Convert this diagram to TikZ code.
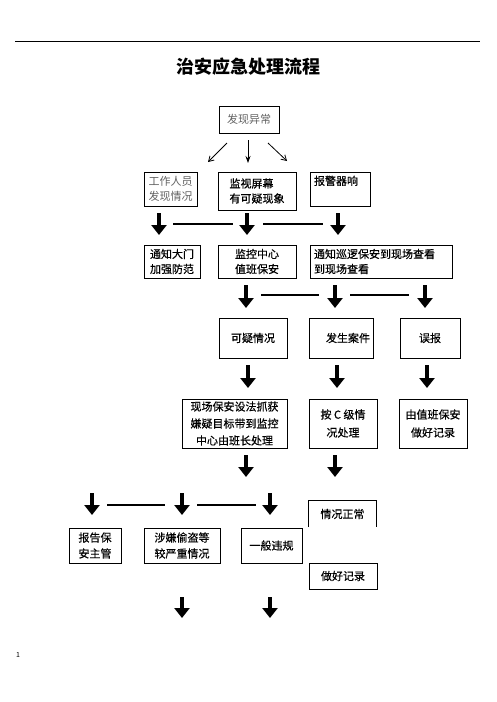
\documentclass[tikz,border=0pt]{standalone}
\usepackage{fontspec}
\setmainfont{Noto Sans CJK SC}
\newfontfamily\heiti{Noto Sans CJK SC}[RawFeature={embolden=0.5}]
\usetikzlibrary{arrows.meta}

\begin{document}
\begin{tikzpicture}[
		x=1pt, y=-1pt,
		every node/.style={inner sep=0pt, font=\heiti\fontsize{11}{15}\selectfont},
		box/.style={draw, line width=0.9pt},
		grey/.style={text=black!62, font=\rmfamily\fontsize{11}{15}\selectfont},
		heavy/.style={line width=3.6pt, -{Triangle[width=15pt, length=10pt]}},
		slim/.style={line width=0.8pt, -{Straight Barb[length=5pt, width=6pt]}},
		bar/.style={line width=1.3pt}
	]
  \useasboundingbox (0,0) rectangle (496,702);
  \coordinate (rule_l) at (15,41);
  \coordinate (rule_r) at (480,41);
  \draw [line width=0.8pt] (rule_l) -- (rule_r);
  \node (title) [font=\rmfamily\fontsize{18}{20}\bfseries] at (248,67) {治安应急处理流程};

  \node (detect) [box, grey, minimum width=60pt, minimum height=27pt] at (249,119.5) {发现异常};
  \node (staff) [box, grey, align=center, minimum width=53pt, minimum height=34pt] at (170.5,189) {工作人员\\发现情况};
  \node (screen) [box, align=left, minimum width=78pt, minimum height=38pt] at (257,191) {监视屏幕\\有可疑现象};
  \node (alarm) [box, text width=52pt, text height=9pt, text depth=17pt, minimum width=60pt, minimum height=34pt] at (340,189) {报警器响};

  \node (gate) [box, align=left, minimum width=56pt, minimum height=33pt] at (172,261.5) {通知大门\\加强防范};
  \node (monitor) [box, align=center, minimum width=78pt, minimum height=33pt] at (257,261.5) {监控中心\\值班保安};
  \node (patrol) [box, align=left, text width=134pt, minimum width=142pt, minimum height=33pt] at (381,261.5) {通知巡逻保安到现场查看\\到现场查看};

  \node (suspect) [box, minimum width=68pt, minimum height=40pt] at (253,338) {可疑情况};
  \node (case) [box, minimum width=64pt, minimum height=40pt] at (341,338) {\hspace{14pt}发生案件};
  \node (false_alarm) [box, minimum width=60pt, minimum height=40pt] at (430,338) {误报};

  \node (catch) [box, align=center, font=\heiti\fontsize{11}{17}\selectfont, minimum width=105pt, minimum height=49pt] at (234.5,423.5) {现场保安设法抓获\\嫌疑目标带到监控\\中心由班长处理};
  \node (level_c) [box, align=left, font=\heiti\fontsize{11}{18}\selectfont, minimum width=68pt, minimum height=49pt] at (343,423.5) {按 C 级情\\\hspace{6pt}况处理};
  \node (duty_log) [box, align=center, font=\heiti\fontsize{11}{18}\selectfont, minimum width=68pt, minimum height=49pt] at (433,423.5) {由值班保安\\做好记录};

  \node (normal) [minimum width=67pt, minimum height=26pt] at (342.5,514) {情况正常};
  \draw [box] (normal.south west) -- (normal.north west) -- (normal.north east) -- (normal.south east);
  \node (report) [box, align=center, font=\heiti\fontsize{11}{16}\selectfont, minimum width=52pt, minimum height=35pt] at (95,545.5) {报告保\\安主管};
  \node (theft) [box, align=left, font=\heiti\fontsize{11}{16}\selectfont, minimum width=76pt, minimum height=35pt] at (182,545.5) {涉嫌偷盗等\\较严重情况};
  \node (minor) [box, minimum width=61pt, minimum height=35pt] at (271.5,545.5) {一般违规};
  \node (log) [box, minimum width=68pt, minimum height=26pt] at (343,576) {做好记录};

  \node (page_no) [font=\rmfamily\fontsize{7}{8}\selectfont] at (18,655) {1};

  % small arrows under the first box
  \coordinate (d1_s) at (227,143); \coordinate (d1_e) at (208,162);
  \coordinate (d2_s) at (248,140); \coordinate (d2_e) at (248,163);
  \coordinate (d3_s) at (268,143); \coordinate (d3_e) at (287,161);
  \draw [slim] (d1_s) -- (d1_e);
  \draw [line width=0.8pt, -{Stealth[length=7pt, width=5pt]}] (d2_s) -- (d2_e);
  \draw [slim] (d3_s) -- (d3_e);

  % heavy arrows
  \foreach \n/\x/\ya/\yb in {a1/159/213/235, a2/247/213/235, a3/338/213/235,
      b1/246/285/308, b2/335/285/308, b3/425/285/308,
      c1/248/365/388, c2/337/365/388, c3/427/365/388,
      e1/246/455/477, e2/335/455/477,
      f1/92/493/515, f2/182/493/515, f3/270/493/515,
      g1/182/597/618, g2/270/597/618}{
    \coordinate (\n_top) at (\x,\ya);
    \coordinate (\n_tip) at (\x,\yb);
    \draw [heavy] (\n_top) -- (\n_tip);
  }

  % dashes between arrows
  \foreach \n/\xa/\xb/\y in {a12/173/233/224, a23/263/323/224,
      b12/261/319/295, b23/350/409/295,
      f12/107/165/505, f23/197/256/505}{
    \coordinate (\n_l) at (\xa,\y);
    \coordinate (\n_r) at (\xb,\y);
    \draw [bar] (\n_l) -- (\n_r);
  }
\end{tikzpicture}
\end{document}
